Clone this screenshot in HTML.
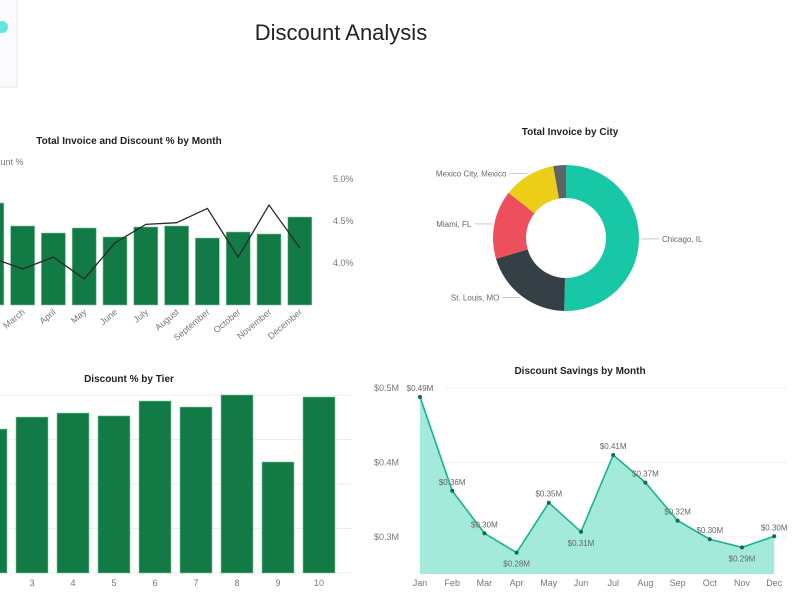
<!DOCTYPE html>
<html><head><meta charset="utf-8">
<style>
body{margin:0;width:800px;height:600px;overflow:hidden;background:#fff;font-family:"Liberation Sans",sans-serif;}
svg{position:absolute;left:0;top:0;}
text{font-family:"Liberation Sans",sans-serif;}
.tick{fill:#777;font-size:9px;}
.ttl{fill:#222;font-size:10px;font-weight:bold;}
.lbl{fill:#666;font-size:8px;}
</style></head>
<body>
<svg id="c" width="800" height="600">
  <rect x="-2" y="-2" width="19" height="89" fill="#fbfbfd" stroke="#e4e4ea"/>
  <circle cx="2" cy="27" r="6" fill="#5fe6de"/>
  <text x="341" y="40" text-anchor="middle" font-size="22" fill="#222">Discount Analysis</text>
  <text x="129" y="144" text-anchor="middle" class="ttl">Total Invoice and Discount % by Month</text>
  <text x="-22" y="165" class="tick">Discount %</text>
  <text x="570" y="135" text-anchor="middle" class="ttl">Total Invoice by City</text>
  <text x="129" y="382" text-anchor="middle" class="ttl">Discount % by Tier</text>
  <text x="580" y="374" text-anchor="middle" class="ttl">Discount Savings by Month</text>
  <g id="g1"></g><g id="g2"></g><g id="g3"></g><g id="g4"></g>
</svg>
<script>
const NS="http://www.w3.org/2000/svg";
function mk(p,t,a){const e=document.createElementNS(NS,t);for(const k in a)e.setAttribute(k,a[k]);p.appendChild(e);return e;}

// Chart 1 data
const months1=["January","February","March","April","May","June","July","August","September","October","November","December"];
const invoice1=[80,102,79,72,77,68,78,79,67,73,71,88];
const discPct1=[4.1,4.06,3.93,4.07,3.81,4.24,4.46,4.48,4.65,4.07,4.69,4.18];
const pctTicks1=[4.0,4.5,5.0];
// Chart 2 data
const cities=["Chicago, IL","St. Louis, MO","Miami, FL","Mexico City, Mexico","Other"];
const cityVals=[50.4,20,15.2,11.6,2.8];
// Chart 3 data
const tiers=[1,2,3,4,5,6,7,8,9,10];
const tierVals=[6.8,6.47,7.01,7.19,7.06,7.73,7.46,8.0,4.99,7.91];
// Chart 4 data
const months4=["Jan","Feb","Mar","Apr","May","Jun","Jul","Aug","Sep","Oct","Nov","Dec"];
const savings=[0.488,0.362,0.305,0.279,0.346,0.307,0.410,0.373,0.322,0.297,0.286,0.301];
const savingsLbl=["$0.49M","$0.36M","$0.30M","$0.28M","$0.35M","$0.31M","$0.41M","$0.37M","$0.32M","$0.30M","$0.29M","$0.30M"];
const savTicks=[0.3,0.4,0.5];
const savTickLbl=["$0.3M","$0.4M","$0.5M"];

// ---- Chart 1
(function(){
const g=document.getElementById('g1');
const x=i=>-39+i*30.8, yB=v=>305-v, yP=p=>263-(p-4)*84;
pctTicks1.forEach(p=>{
  const t=mk(g,'text',{x:333,y:yP(p)+3,class:'tick'});t.textContent=p.toFixed(1)+'%';
  
  
});
invoice1.forEach((v,i)=>{
  const r=mk(g,'rect',{x:x(i)-12,y:yB(v),width:24,height:v,fill:'#127a45',stroke:'#7fc79d','stroke-width':0.6});
  
  
  const t=mk(g,'text',{x:x(i)+3,y:313,class:'tick','text-anchor':'end',transform:`rotate(-40 ${x(i)+3} 313)`});t.textContent=months1[i];
  
  
});
const l=mk(g,'polyline',{points:discPct1.map((p,i)=>x(i)+','+yP(p)).join(' '),fill:'none',stroke:'#2a2a2a','stroke-width':1.3});


})();

// ---- Chart 2 donut
(function(){
const g=document.getElementById('g2');
const cx=566,cy=238,R=73,r=40;
const cols=['#17c7a6','#353f46','#ee4f5d','#eccd18','#5e6363'];
const tot=cityVals.reduce((a,b)=>a+b,0);let a0=0;
const pt=(a,rr)=>[cx+rr*Math.sin(a),cy-rr*Math.cos(a)];
cityVals.forEach((v,i)=>{
  const a1=a0+v/tot*2*Math.PI;const lg=(a1-a0)>Math.PI?1:0;
  const [x0,y0]=pt(a0,R),[x1,y1]=pt(a1,R),[x2,y2]=pt(a1,r),[x3,y3]=pt(a0,r);
  const p=mk(g,'path',{d:`M${x0},${y0}A${R},${R} 0 ${lg} 1 ${x1},${y1}L${x2},${y2}A${r},${r} 0 ${lg} 0 ${x3},${y3}Z`,fill:cols[i]});
  
  
  if(i<4){
    const am=(a0+a1)/2;const [ax,ay]=pt(am,R+2);const right=Math.sin(am)>0;
    const ex=right?ax+18:ax-18;
    mk(g,'polyline',{points:`${ax},${ay} ${ex},${ay}`,stroke:'#aaa',fill:'none','stroke-width':0.7});
    const t=mk(g,'text',{x:right?ex+3:ex-3,y:ay+3,class:'lbl','text-anchor':right?'start':'end'});t.textContent=cities[i];
    
    
  }
  a0=a1;
});
})();

// ---- Chart 3
(function(){
const g=document.getElementById('g3');
const x=i=>-50+i*41, y=v=>573-v/8*178;
[0,2,4,6,8].forEach(v=>{const l=mk(g,'line',{x1:0,x2:352,y1:y(v),y2:y(v),stroke:'#eee'});
  
  });
tierVals.forEach((v,i)=>{
  const b=mk(g,'rect',{x:x(i)-16,y:y(v),width:32,height:573-y(v),fill:'#127a45',stroke:'#7fc79d','stroke-width':0.6});
  
  
  const t=mk(g,'text',{x:x(i),y:586,class:'tick','text-anchor':'middle'});t.textContent=tiers[i];
  
  
});
})();

// ---- Chart 4
(function(){
const g=document.getElementById('g4');
const x=i=>420+i*32.2, y=v=>537-(v-0.3)*745;
savTicks.forEach((v,i)=>{
  const l=mk(g,'line',{x1:445,x2:787,y1:y(v),y2:y(v),stroke:'#f0f0f0'});
  
  
  const t=mk(g,'text',{x:374,y:y(v)+3,class:'tick'});t.textContent=savTickLbl[i];
  
  
});
const pts=savings.map((v,i)=>x(i)+','+y(v)).join(' ');
const a=mk(g,'polygon',{points:`${x(0)},574 ${pts} ${x(11)},574`,fill:'#a3eadb'});


const l=mk(g,'polyline',{points:pts,fill:'none',stroke:'#19b48f','stroke-width':1.6});


const below=[3,5,10];
savings.forEach((v,i)=>{
  const c=mk(g,'circle',{cx:x(i),cy:y(v),r:2,fill:'#0e6b4e'});
  
  
  const t=mk(g,'text',{x:x(i),y:below.includes(i)?y(v)+14:y(v)-6,class:'lbl','text-anchor':'middle'});t.textContent=savingsLbl[i];
  
  
  const m=mk(g,'text',{x:x(i),y:586,class:'tick','text-anchor':'middle'});m.textContent=months4[i];
  
  
});
})();
</script>
</body></html>
